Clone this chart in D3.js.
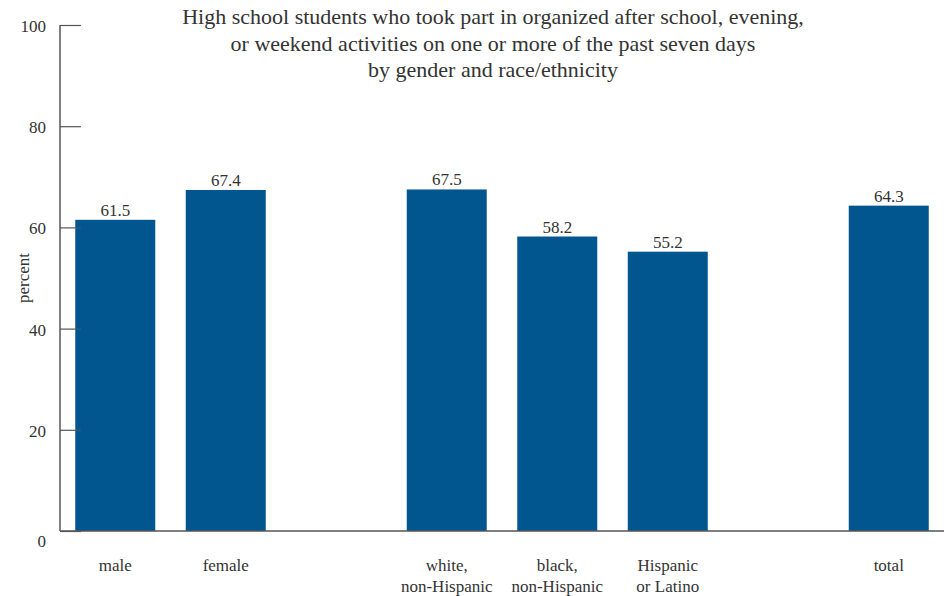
<!DOCTYPE html>
<html><head><meta charset="utf-8">
<script src="https://cdn.jsdelivr.net/npm/d3@7"></script>
<style>body{margin:0;background:#fff}svg{display:block}svg text{font-family:"Liberation Serif","DejaVu Serif","Times New Roman",Times,serif}</style>
</head><body>
<script>
const slots = ["male","female","gap1","white","black","hispanic","gap2","total"];
const categories = ["male","female","white","black","hispanic","total"];
const labels = [["male"],["female"],["white,","non-Hispanic"],["black,","non-Hispanic"],["Hispanic","or Latino"],["total"]];
const values = [61.5,67.4,67.5,58.2,55.2,64.3];
const yTicks = [0,20,40,60,80,100];
const titleLines = ["High school students who took part in organized after school, evening,","or weekend activities on one or more of the past seven days","by gender and race/ethnicity"];

const W=948,H=596;
const svg=d3.select("body").append("svg").attr("width",W).attr("height",H);
const x=d3.scaleBand().domain(slots).range([60,944]).paddingInner(0.276).paddingOuter(0.138);
const y=d3.scaleLinear().domain([0,100]).range([531,25]);
const col="#02568F", axc="#555", txt="#333";

// bars
svg.selectAll("rect.bar").data(categories).join("rect")
  .attr("x",d=>x(d)).attr("width",x.bandwidth())
  .attr("y",(d,i)=>y(values[i])).attr("height",(d,i)=>y(0)-y(values[i]))
  .attr("fill",col);

// y axis
const ya=svg.append("g").attr("transform","translate(60,0)")
  .call(d3.axisRight(y).tickValues(yTicks).tickSize(21).tickFormat(""));
ya.select(".domain").remove();
ya.selectAll("line").attr("stroke",axc).attr("stroke-width",1.2);
svg.append("line").attr("x1",60).attr("x2",60).attr("y1",y(100)).attr("y2",y(0)).attr("stroke",axc).attr("stroke-width",1.5);
svg.selectAll("text.yt").data(yTicks).join("text")
  .attr("x",46).attr("y",d=>y(d)+(d===0?16:7))
  .attr("text-anchor","end").attr("font-size",17).attr("fill",txt).text(d=>d);

// x axis line
svg.append("line").attr("x1",60).attr("x2",944).attr("y1",y(0)).attr("y2",y(0)).attr("stroke",axc).attr("stroke-width",1.5);

// value labels
svg.selectAll("text.val").data(categories).join("text")
  .attr("x",d=>x(d)+x.bandwidth()/2).attr("y",(d,i)=>y(values[i])-4)
  .attr("text-anchor","middle").attr("font-size",17).attr("fill",txt)
  .text((d,i)=>values[i].toFixed(1));

// category labels
categories.forEach((c,i)=>{
  const t=svg.append("text").attr("x",x(c)+x.bandwidth()/2).attr("y",571)
    .attr("text-anchor","middle").attr("font-size",17).attr("fill",txt);
  labels[i].forEach((l,j)=>t.append("tspan").attr("x",x(c)+x.bandwidth()/2).attr("dy",j?21:0).text(l));
});

// y title
svg.append("text").attr("transform","translate(29,278) rotate(-90)")
  .attr("text-anchor","middle").attr("font-size",17).attr("fill",txt).text("percent");

// title
svg.append("text").attr("text-anchor","middle").attr("font-size",22).attr("fill",txt)
  .selectAll("tspan").data(titleLines).join("tspan").attr("x",493).attr("y",(d,i)=>24+i*26.5).text(d=>d);
</script>
</body></html>
